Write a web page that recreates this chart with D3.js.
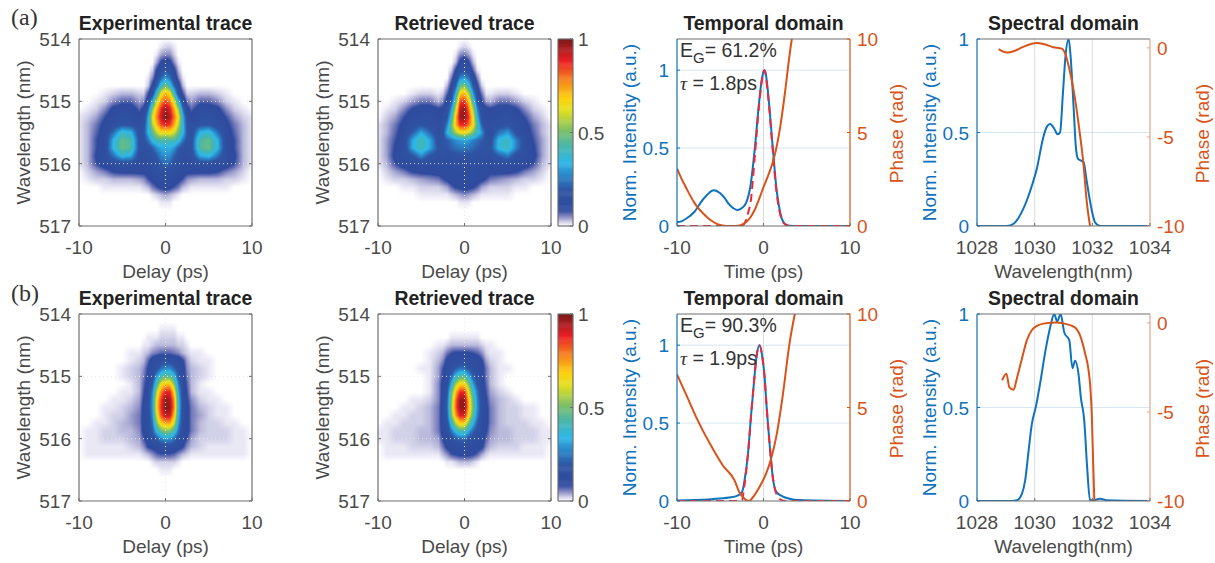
<!DOCTYPE html>
<html>
<head>
<meta charset="utf-8">
<script src="https://cdn.jsdelivr.net/npm/d3@7"></script>
<style>
  html, body { margin: 0; padding: 0; background: white; }
  text { font-family: "Liberation Sans", Arial, sans-serif; }
</style>
</head>
<body>
<div id="chart"></div>
<script>
// sample positions of the heat maps, finer around the central peak
var delays = [-10,-9,-8,-7,-6,-5,-4,-3,-2.5,-2,-1.5,-1,-0.5,0,0.5,1,1.5,2,2.5,3,4,5,6,7,8,9,10]
var wavelengths = [514,514.125,514.25,514.375,514.5,514.625,514.75,514.875,515,515.125,515.25,515.375,515.5,515.625,515.75,515.875,516,516.125,516.25,516.375,516.5,516.625,516.75,516.875,517]

// trace values x100
var trace_exp_a = [
[0,0,0,0,0,0,0,0,0,0,0,0,0,0,0,0,0,0,0,0,0,0,0,0,0,0,0],
[0,0,0,0,0,0,0,0,0,0,0,0,1,2,2,1,0,0,0,0,0,0,0,0,0,0,0],
[0,0,0,0,0,0,0,0,0,0,0,1,4,5,5,2,0,0,0,0,0,0,0,0,0,0,0],
[0,0,0,0,0,0,0,0,0,0,0,4,9,11,10,5,1,0,0,0,0,0,0,0,0,0,0],
[0,0,0,0,0,0,0,0,0,0,2,9,14,18,15,10,3,0,0,0,0,0,0,0,0,0,0],
[0,0,0,0,0,0,0,0,0,1,5,12,22,30,24,13,6,1,0,0,0,0,0,0,0,0,0],
[0,0,0,0,0,0,0,0,0,2,10,20,38,50,40,22,11,3,0,0,0,0,0,0,0,0,0],
[0,0,0,1,2,3,3,2,2,8,14,38,64,72,66,40,15,8,2,2,3,3,2,1,0,0,0],
[0,0,1,2,5,7,7,4,5,12,32,60,76,84,78,62,34,13,6,4,7,7,5,2,1,0,0],
[0,1,2,5,10,11,11,7,10,22,52,72,88,96,90,74,54,24,10,7,11,11,10,5,2,1,0],
[1,2,4,8,12,14,13,10,12,32,62,78,92,100,94,80,64,34,13,10,13,14,12,8,4,2,1],
[1,3,6,10,14,18,17,13,16,34,56,72,84,88,86,74,58,36,17,13,17,18,14,10,6,3,1],
[1,3,7,11,24,38,34,14,18,34,46,58,66,64,66,60,48,36,19,14,34,38,24,11,7,3,1],
[1,3,8,12,34,47,43,16,17,24,36,42,44,42,44,43,38,25,17,16,43,47,34,12,8,3,1],
[1,3,8,13,35,48,44,16,15,15,20,28,32,33,33,29,20,15,15,16,44,48,35,13,8,3,1],
[1,3,9,13,24,36,32,14,13,13,15,20,27,29,28,21,15,13,13,14,32,36,24,13,9,3,1],
[1,3,8,12,13,14,14,12,12,12,13,15,20,23,21,16,13,12,12,12,14,14,13,12,8,3,1],
[0,2,4,6,9,10,10,10,10,11,12,14,15,16,15,14,12,11,10,10,10,10,9,6,4,2,0],
[0,1,2,2,3,3,3,4,5,8,10,11,12,13,12,11,10,8,5,4,3,3,3,2,2,1,0],
[0,0,0,1,1,1,1,1,2,3,6,8,10,11,10,8,6,3,2,1,1,1,1,1,0,0,0],
[0,0,0,0,0,0,0,0,0,0,1,2,3,4,3,2,1,0,0,0,0,0,0,0,0,0,0],
[0,0,0,0,0,0,0,0,0,0,0,0,1,1,1,0,0,0,0,0,0,0,0,0,0,0,0],
[0,0,0,0,0,0,0,0,0,0,0,0,0,0,0,0,0,0,0,0,0,0,0,0,0,0,0],
[0,0,0,0,0,0,0,0,0,0,0,0,0,0,0,0,0,0,0,0,0,0,0,0,0,0,0],
[0,0,0,0,0,0,0,0,0,0,0,0,0,0,0,0,0,0,0,0,0,0,0,0,0,0,0]]

var trace_ret_a = [
[0,0,0,0,0,0,0,0,0,0,0,0,0,0,0,0,0,0,0,0,0,0,0,0,0,0,0],
[0,0,0,0,0,0,0,0,0,0,0,0,1,2,1,0,0,0,0,0,0,0,0,0,0,0,0],
[0,0,0,0,0,0,0,0,0,0,0,1,5,6,4,1,0,0,0,0,0,0,0,0,0,0,0],
[0,0,0,0,0,0,0,0,0,0,0,3,10,13,9,3,0,0,0,0,0,0,0,0,0,0,0],
[0,0,0,0,0,0,0,0,0,0,2,9,15,17,13,7,1,0,0,0,0,0,0,0,0,0,0],
[0,0,0,0,0,0,0,0,0,0,6,13,27,30,24,12,5,0,0,0,0,0,0,0,0,0,0],
[0,0,0,0,0,0,0,0,0,3,10,20,46,52,38,18,9,2,0,0,0,0,0,0,0,0,0],
[0,0,0,0,1,2,2,1,2,7,13,34,68,72,56,30,12,6,1,1,2,2,1,0,0,0,0],
[0,0,1,2,4,6,6,3,5,11,20,46,84,86,70,42,17,9,4,3,6,6,4,2,1,0,0],
[0,1,2,5,9,11,11,9,10,13,30,60,94,97,80,56,26,12,10,9,11,11,9,5,2,1,0],
[0,2,4,8,12,13,13,11,12,18,38,70,97,98,86,64,33,14,11,11,13,13,12,8,4,2,0],
[1,3,6,10,14,17,15,12,14,26,48,72,88,88,80,66,42,20,13,12,15,17,14,10,6,3,1],
[1,3,7,11,20,32,22,13,17,34,44,56,64,66,60,50,38,30,15,13,24,30,16,11,7,3,1],
[1,4,8,13,32,42,32,15,17,20,24,28,30,32,30,26,23,20,17,15,36,40,26,13,8,4,1],
[1,4,9,13,32,42,32,17,18,19,21,23,25,25,24,22,20,18,17,17,36,40,26,13,9,4,1],
[1,4,10,13,18,28,18,15,15,15,16,17,17,17,17,16,15,15,15,15,20,26,14,13,10,4,1],
[1,3,8,12,12,12,12,12,12,12,12,12,12,12,12,12,12,12,12,12,12,12,12,12,8,3,1],
[0,2,4,6,9,10,10,11,11,11,11,12,12,12,12,12,11,11,11,10,10,10,9,6,4,2,0],
[0,1,2,2,3,4,5,6,8,10,11,11,11,11,11,11,11,10,8,6,5,4,3,2,2,1,0],
[0,0,0,1,1,2,2,2,3,4,7,9,10,11,10,9,7,4,3,2,2,2,1,1,0,0,0],
[0,0,0,0,0,1,1,1,1,1,2,3,4,5,4,3,2,1,1,1,1,1,0,0,0,0,0],
[0,0,0,0,0,0,0,0,0,0,0,0,1,1,1,0,0,0,0,0,0,0,0,0,0,0,0],
[0,0,0,0,0,0,0,0,0,0,0,0,0,0,0,0,0,0,0,0,0,0,0,0,0,0,0],
[0,0,0,0,0,0,0,0,0,0,0,0,0,0,0,0,0,0,0,0,0,0,0,0,0,0,0],
[0,0,0,0,0,0,0,0,0,0,0,0,0,0,0,0,0,0,0,0,0,0,0,0,0,0,0]]

var trace_exp_b = [
[0,0,0,0,0,0,0,0,0,0,0,0,0,0,0,0,0,0,0,0,0,0,0,0,0,0,0],
[0,0,0,0,0,0,0,0,0,0,0,0,0,0,0,0,0,0,0,0,0,0,0,0,0,0,0],
[0,0,0,0,0,0,0,0,0,0,0,0,1,1,1,1,0,0,0,0,0,0,0,0,0,0,0],
[0,0,0,0,0,0,0,0,0,1,1,1,2,2,2,2,1,1,0,0,0,0,0,0,0,0,0],
[0,0,0,0,0,0,0,0,1,1,2,3,3,3,3,3,2,2,1,0,0,0,0,0,0,0,0],
[0,0,0,0,0,0,1,1,2,3,5,6,7,7,7,6,5,3,2,1,1,0,0,0,0,0,0],
[0,0,0,0,0,0,1,2,3,7,11,13,14,14,14,13,12,9,4,2,1,1,0,0,0,0,0],
[0,0,0,0,0,1,2,3,5,9,12,16,24,28,28,22,14,11,5,3,2,1,0,0,0,0,0],
[0,0,0,0,0,1,2,3,6,10,14,30,42,46,46,36,18,11,6,3,2,1,0,0,0,0,0],
[0,0,0,0,0,0,1,3,7,11,20,42,64,70,70,52,26,12,7,3,1,0,0,0,0,0,0],
[0,0,0,0,0,1,1,3,8,12,26,58,78,88,88,68,32,13,8,3,1,1,0,0,0,0,0],
[0,0,0,0,1,1,2,4,9,13,30,66,86,97,96,76,36,14,9,5,2,1,1,0,0,0,0],
[0,0,0,1,1,2,3,5,10,14,30,68,88,99,98,78,37,14,10,6,3,2,1,1,0,0,0],
[0,0,0,1,2,2,4,6,10,13,28,62,84,92,92,72,34,14,10,6,4,2,1,1,0,0,0],
[0,0,1,1,2,3,4,6,10,13,24,52,68,74,74,60,30,13,10,6,3,2,2,1,1,0,0],
[0,1,1,2,2,3,3,5,10,12,20,36,48,52,52,42,24,12,10,6,3,2,2,2,1,1,0],
[0,1,1,2,2,2,3,4,8,11,14,20,27,30,30,24,15,11,8,4,2,2,2,2,1,1,0],
[0,1,1,1,1,1,2,3,5,9,10,12,14,15,15,13,11,9,5,3,2,1,1,1,1,1,0],
[0,1,1,1,1,1,1,1,2,3,5,7,8,8,8,7,5,3,2,1,1,1,1,1,1,1,0],
[0,0,0,0,0,0,0,0,0,0,1,2,2,2,2,2,1,0,0,0,0,0,0,0,0,0,0],
[0,0,0,0,0,0,0,0,0,0,0,0,1,1,1,0,0,0,0,0,0,0,0,0,0,0,0],
[0,0,0,0,0,0,0,0,0,0,0,0,0,0,0,0,0,0,0,0,0,0,0,0,0,0,0],
[0,0,0,0,0,0,0,0,0,0,0,0,0,0,0,0,0,0,0,0,0,0,0,0,0,0,0],
[0,0,0,0,0,0,0,0,0,0,0,0,0,0,0,0,0,0,0,0,0,0,0,0,0,0,0],
[0,0,0,0,0,0,0,0,0,0,0,0,0,0,0,0,0,0,0,0,0,0,0,0,0,0,0]]

var trace_ret_b = [
[0,0,0,0,0,0,0,0,0,0,0,0,0,0,0,0,0,0,0,0,0,0,0,0,0,0,0],
[0,0,0,0,0,0,0,0,0,0,0,0,0,0,0,0,0,0,0,0,0,0,0,0,0,0,0],
[0,0,0,0,0,0,0,0,0,0,0,0,0,0,0,0,0,0,0,0,0,0,0,0,0,0,0],
[0,0,0,0,0,0,0,0,0,0,1,1,1,1,1,1,1,0,0,0,0,0,0,0,0,0,0],
[0,0,0,0,0,0,0,1,1,2,3,3,3,3,3,3,3,2,1,1,0,0,0,0,0,0,0],
[0,0,0,0,0,0,1,2,3,6,8,9,9,9,9,8,7,5,2,1,1,0,0,0,0,0,0],
[0,0,0,0,0,0,1,3,5,10,12,12,13,13,13,12,12,9,4,2,1,0,0,0,0,0,0],
[0,0,0,0,0,1,1,4,8,11,14,20,24,24,18,14,12,11,6,3,1,1,0,0,0,0,0],
[0,0,0,0,0,0,1,4,9,11,22,36,45,45,32,20,14,11,6,3,1,0,0,0,0,0,0],
[0,0,0,0,0,0,1,5,10,13,34,56,67,67,50,30,18,11,7,3,1,0,0,0,0,0,0],
[0,0,0,0,0,0,1,5,10,18,46,72,87,87,62,40,24,12,8,4,2,1,0,0,0,0,0],
[0,0,0,0,1,1,2,5,11,21,52,80,97,97,70,46,27,13,9,5,3,2,1,0,0,0,0],
[0,0,0,1,1,2,3,6,11,22,54,82,98,98,72,48,28,14,10,6,3,2,2,1,1,0,0],
[0,0,1,1,2,2,3,6,11,20,50,76,90,90,66,44,26,13,10,6,3,2,2,1,1,0,0],
[0,1,1,2,2,2,3,6,11,16,38,58,69,69,50,34,20,12,10,6,3,2,2,2,1,1,0],
[1,1,2,2,2,3,3,6,10,12,25,37,44,44,32,22,15,12,9,5,3,3,2,2,2,1,1],
[1,1,2,2,2,3,3,4,9,11,14,20,23,23,18,14,12,11,7,4,3,3,2,2,2,1,1],
[0,1,1,1,2,2,2,3,6,10,11,12,12,12,12,12,11,10,5,3,2,2,2,1,1,1,0],
[0,1,1,1,1,1,1,1,3,5,8,9,10,10,10,9,7,4,2,1,1,1,1,1,1,1,0],
[0,0,0,0,0,0,0,0,0,1,1,2,3,3,3,2,1,0,0,0,0,0,0,0,0,0,0],
[0,0,0,0,0,0,0,0,0,0,0,0,0,0,0,0,0,0,0,0,0,0,0,0,0,0,0],
[0,0,0,0,0,0,0,0,0,0,0,0,0,0,0,0,0,0,0,0,0,0,0,0,0,0,0],
[0,0,0,0,0,0,0,0,0,0,0,0,0,0,0,0,0,0,0,0,0,0,0,0,0,0,0],
[0,0,0,0,0,0,0,0,0,0,0,0,0,0,0,0,0,0,0,0,0,0,0,0,0,0,0],
[0,0,0,0,0,0,0,0,0,0,0,0,0,0,0,0,0,0,0,0,0,0,0,0,0,0,0]]

// temporal domain, row (a)
var time_a = [-10,-9.5,-9,-8,-7,-6.5,-6,-5.75,-5,-4.5,-4,-3.5,-3,-2.5,-2,-1.5,-1,-0.5,-0.25,0,0.1,0.25,0.5,1,1.5,2,2.5,3,4,10]
var intensity_a = [0.025,0.03,0.045,0.09,0.17,0.2,0.225,0.23,0.21,0.18,0.14,0.115,0.102,0.115,0.15,0.26,0.5,0.8,0.92,0.99,1,0.98,0.87,0.55,0.24,0.07,0.012,0.002,0,0]
var fit_time_a = [-10,-2.6,-2.2,-1.8,-1.45,-1,-0.5,0,0.1,0.5,1,1.5,2,2.5,3,10]
var fit_a = [0,0,0.017,0.08,0.17,0.45,0.78,0.99,1,0.85,0.53,0.22,0.06,0.01,0,0]
var phase_time_a = [-10,-9.5,-9,-8.5,-8,-7.5,-7,-6.5,-6,-5.5,-5,-4.5,-4,-3.5,-3,-2.5,-2,-1.5,-1,-0.5,0,0.5,1,1.5,2,2.5,3,3.4]
var phase_a = [3.07,2.55,2.1,1.65,1.25,0.93,0.68,0.46,0.28,0.14,0.05,0.01,0,0,0.01,0.07,0.22,0.47,0.88,1.45,2.08,2.65,3.3,4.2,5.5,7.2,9.1,10.4]

// spectral domain, row (a)
var wl_a = [1028,1029.04,1029.27,1029.6,1029.85,1030.08,1030.3,1030.42,1030.54,1030.68,1030.8,1030.88,1030.98,1031.07,1031.18,1031.25,1031.35,1031.43,1031.5,1031.7,1031.8,1032,1032.1,1032.27,1034]
var spectrum_a = [0,0,0.012,0.09,0.19,0.31,0.475,0.53,0.545,0.52,0.49,0.5,0.71,0.91,1,0.9,0.636,0.42,0.36,0.34,0.245,0.07,0.018,0,0]
var spec_phase_wl_a = [1028.75,1029.04,1029.27,1029.6,1030.08,1030.3,1030.65,1030.94,1031.06,1031.2,1031.35,1031.52,1031.7,1031.8,1031.92]
var spec_phase_a = [-0.07,-0.26,-0.19,0.06,0.28,0.22,0.04,-0.04,-0.32,-1.16,-2.37,-4.23,-6.66,-8.53,-10]

// temporal domain, row (b)
var time_b = [-10,-8,-6,-4,-3,-2.5,-2.2,-1.8,-1.42,-1.04,-0.8,-0.46,-0.15,0.12,0.38,0.7,1.08,1.46,2.2,3,4.15,10]
var intensity_b = [0.003,0.006,0.012,0.022,0.035,0.055,0.13,0.3,0.56,0.8,0.93,1,0.93,0.8,0.59,0.37,0.15,0.06,0.03,0.015,0.006,0]
var fit_time_b = [-10,-3,-2.5,-2.2,-1.8,-1.42,-1.04,-0.8,-0.46,-0.15,0.12,0.38,0.7,1.08,1.46,2,2.5,10]
var fit_b = [0,0,0.005,0.1,0.3,0.56,0.8,0.93,1,0.93,0.8,0.59,0.37,0.15,0.05,0.008,0,0]
var phase_time_b = [-10,-8.9,-7.8,-6.2,-4.7,-3.35,-2.8,-2.2,-1.7,-1.23,-0.46,0.3,0.88,1.46,2.2,3,3.7]
var phase_b = [6.77,5.65,4.5,3.07,1.9,1.1,0.48,0.12,0,0.2,0.75,1.46,2.26,3.4,5.56,8.4,10.2]

// spectral domain, row (b)
var wl_b = [1028,1029.2,1029.38,1029.56,1029.67,1029.79,1029.9,1030.05,1030.19,1030.37,1030.54,1030.68,1030.78,1030.9,1031.03,1031.2,1031.31,1031.4,1031.52,1031.6,1031.72,1031.82,1031.92,1032.04,1032.27,1032.5,1034]
var spectrum_b = [0,0,0.004,0.04,0.11,0.27,0.41,0.51,0.63,0.8,0.93,1,0.96,1,0.9,0.86,0.71,0.75,0.68,0.556,0.43,0.18,0.004,0.004,0.012,0.004,0]
var spec_phase_wl_b = [1028.87,1029.02,1029.12,1029.27,1029.38,1029.56,1029.73,1029.9,1030.08,1030.3,1030.77,1031.1,1031.4,1031.57,1031.75,1031.87,1031.93,1031.98,1032.03,1032.07]
var spec_phase_b = [-3.22,-2.85,-3.6,-3.75,-3.13,-2,-0.97,-0.41,-0.17,-0.04,0.02,-0.07,-0.26,-0.69,-1.72,-2.66,-3.6,-5.1,-7.9,-10]

// colormap stops
var cmap_values = [0,0.005,0.05,0.085,0.19,0.26,0.34,0.42,0.51,0.62,0.685,0.79,0.88,1]
var cmap_colors = ["#ffffff","#f5f3fa","#8a8cc4","#2f4a9e","#2f55a4","#2a7fc4","#2eb7e8","#45b6b0","#7cc068","#e4e01f","#fdd00f","#f47b20","#ed2024","#7a1a1a"]

var blue = "#0f72bd"
var orange = "#d95319"
var text_grey = "#4a4a4a"
var frame_grey = "#6e6e6e"
var font_size = 19

var plot_w = 173
var plot_h = 187
var row_tops = [39, 314]

var color = d3.scaleLinear().domain(cmap_values).range(cmap_colors).clamp(true)

var svg = d3.select("#chart").append("svg")
    .attr("width", 1215)
    .attr("height", 563)
    .style("display", "block")

function add_text(g, str, x, y, opts){
    opts = opts || {}
    var t = g.append("text")
        .text(str)
        .attr("x", x)
        .attr("y", y)
        .attr("fill", opts.fill || text_grey)
        .attr("font-size", opts.size || font_size)
        .attr("text-anchor", opts.anchor || "middle")
    if(opts.weight) t.attr("font-weight", opts.weight)
    if(opts.family) t.style("font-family", opts.family)
    if(opts.rotate) t.attr("transform", "rotate(-90 "+x+" "+y+")")
    return t
}

function sample_trace(matrix, d, w){
    var i = Math.min(d3.bisectRight(delays, d), delays.length-1)
    var j = Math.min(d3.bisectRight(wavelengths, w), wavelengths.length-1)
    var tx = (d-delays[i-1])/(delays[i]-delays[i-1])
    var ty = (w-wavelengths[j-1])/(wavelengths[j]-wavelengths[j-1])
    var top = matrix[j-1][i-1]*(1-tx)+matrix[j-1][i]*tx
    var bot = matrix[j][i-1]*(1-tx)+matrix[j][i]*tx
    return (top*(1-ty)+bot*ty)/100
}

function frame(g, w, h, color_left, color_right){
    g.append("line").attr("x1", 0).attr("x2", w).attr("y1", 0).attr("y2", 0).attr("stroke", frame_grey).attr("stroke-width", 1.2)
    g.append("line").attr("x1", 0).attr("x2", w).attr("y1", h).attr("y2", h).attr("stroke", frame_grey).attr("stroke-width", 1.2)
    g.append("line").attr("x1", 0).attr("x2", 0).attr("y1", 0).attr("y2", h).attr("stroke", color_left || frame_grey).attr("stroke-width", 1.2)
    g.append("line").attr("x1", w).attr("x2", w).attr("y1", 0).attr("y2", h).attr("stroke", color_right || frame_grey).attr("stroke-width", 1.2)
}

function bottom_ticks(g, x, values, stroke){
    values.forEach(function(v){
        g.append("line").attr("x1", x(v)).attr("x2", x(v)).attr("y1", plot_h).attr("y2", plot_h-3).attr("stroke", stroke || frame_grey)
        add_text(g, v, x(v), plot_h+28)
    })
}

function draw_trace(left, top, matrix, title){
    var g = svg.append("g").attr("transform", "translate("+left+","+top+")")
    var x = d3.scaleLinear().domain([-10,10]).range([0,plot_w])
    var y = d3.scaleLinear().domain([514,517]).range([0,plot_h])

    var canvas = document.createElement("canvas")
    canvas.width = plot_w
    canvas.height = plot_h
    var ctx = canvas.getContext("2d")
    for(var py=0; py<plot_h; py++){
        for(var px=0; px<plot_w; px++){
            ctx.fillStyle = color(sample_trace(matrix, x.invert(px+0.5), y.invert(py+0.5)))
            ctx.fillRect(px, py, 1, 1)
        }
    }
    g.append("image")
        .attr("href", canvas.toDataURL())
        .attr("width", plot_w)
        .attr("height", plot_h)

    // dotted grid
    var grid_color = "#e6e6e6"
    ;[515,516].forEach(function(v){
        g.append("line").attr("x1", 0).attr("x2", plot_w).attr("y1", y(v)).attr("y2", y(v))
            .attr("stroke", grid_color).attr("stroke-dasharray", "1,3")
    })
    g.append("line").attr("x1", x(0)).attr("x2", x(0)).attr("y1", 0).attr("y2", plot_h)
        .attr("stroke", grid_color).attr("stroke-dasharray", "1,3")

    frame(g, plot_w, plot_h)
    bottom_ticks(g, x, [-10,0,10])
    ;[514,515,516,517].forEach(function(v){
        g.append("line").attr("x1", 0).attr("x2", 3).attr("y1", y(v)).attr("y2", y(v)).attr("stroke", frame_grey)
        g.append("line").attr("x1", plot_w).attr("x2", plot_w-3).attr("y1", y(v)).attr("y2", y(v)).attr("stroke", frame_grey)
        add_text(g, v, -8, y(v)+7, {anchor: "end"})
    })
    add_text(g, title, plot_w/2, -9, {weight: "bold", fill: "#222", size: 19.4})
    add_text(g, "Delay (ps)", plot_w/2, plot_h+52)
    add_text(g, "Wavelength (nm)", -49, plot_h/2, {rotate: true})
}

function draw_colorbar(left, top){
    var g = svg.append("g").attr("transform", "translate("+left+","+top+")")
    var w = 15
    var y = d3.scaleLinear().domain([0,1]).range([plot_h,0])
    g.selectAll("rect").data(d3.range(0,1,0.005)).enter().append("rect")
        .attr("x", 0)
        .attr("width", w)
        .attr("y", function(d){ return y(d+0.005) })
        .attr("height", y(0)-y(0.005)+0.5)
        .attr("fill", function(d){ return color(d) })
    frame(g, w, plot_h)
    ;[0,0.5,1].forEach(function(v){
        g.append("line").attr("x1", w).attr("x2", w-3).attr("y1", y(v)).attr("y2", y(v)).attr("stroke", frame_grey)
        add_text(g, v, w+5, y(v)+7, {anchor: "start"})
    })
}

function draw_lines(left, top, p){
    var g = svg.append("g").attr("transform", "translate("+left+","+top+")")
    var x = d3.scaleLinear().domain(p.x_domain).range([0,plot_w])
    var y = d3.scaleLinear().domain(p.y_domain).range([plot_h,0])
    var y2 = d3.scaleLinear().domain(p.y2_domain).range([plot_h,0])
    var clip_id = "clip_"+left+"_"+top

    g.append("clipPath").attr("id", clip_id).append("rect").attr("width", plot_w).attr("height", plot_h)

    // grid
    p.y_grid.forEach(function(v){
        g.append("line").attr("x1", 0).attr("x2", plot_w).attr("y1", y(v)).attr("y2", y(v)).attr("stroke", "#d5e7f3")
    })
    p.x_grid.forEach(function(v){
        g.append("line").attr("x1", x(v)).attr("x2", x(v)).attr("y1", 0).attr("y2", plot_h).attr("stroke", "#dcdcdc")
    })

    var line_y = d3.line().x(function(d){ return x(d[0]) }).y(function(d){ return y(d[1]) }).curve(d3.curveMonotoneX)
    var line_y2 = d3.line().x(function(d){ return x(d[0]) }).y(function(d){ return y2(d[1]) }).curve(d3.curveMonotoneX)
    var plot = g.append("g").attr("clip-path", "url(#"+clip_id+")")

    frame(g, plot_w, plot_h, blue, p.right_color)

    plot.append("path").attr("d", line_y(d3.zip(p.xs, p.ys)))
        .attr("fill", "none").attr("stroke", blue).attr("stroke-width", 2)
    if(p.fit_xs){
        plot.append("path").attr("d", line_y(d3.zip(p.fit_xs, p.fit_ys)))
            .attr("fill", "none").attr("stroke", "#ea2a3a").attr("stroke-width", 2).attr("stroke-dasharray", "8,5")
    }
    plot.append("path").attr("d", line_y2(d3.zip(p.phase_xs, p.phase_ys)))
        .attr("fill", "none").attr("stroke", orange).attr("stroke-width", 2)

    bottom_ticks(g, x, p.x_ticks)

    p.y_ticks.forEach(function(v){
        g.append("line").attr("x1", 0).attr("x2", 3).attr("y1", y(v)).attr("y2", y(v)).attr("stroke", blue)
        add_text(g, v, -8, y(v)+7, {anchor: "end", fill: blue})
    })
    p.y2_ticks.forEach(function(v){
        g.append("line").attr("x1", plot_w).attr("x2", plot_w-3).attr("y1", y2(v)).attr("y2", y2(v)).attr("stroke", p.right_color)
        add_text(g, v, plot_w+7, y2(v)+7, {anchor: "start", fill: orange})
    })

    add_text(g, p.title, plot_w/2, -9, {weight: "bold", fill: "#222", size: 19.4})
    add_text(g, p.x_label, plot_w/2, plot_h+52)
    add_text(g, "Norm. Intensity (a.u.)", -41, plot_h/2, {rotate: true, fill: blue})
    add_text(g, "Phase (rad)", plot_w+p.phase_label_dx, plot_h/2+1, {rotate: true, fill: orange})

    if(p.note_eff){
        var note = add_text(g, "", 3, 18, {anchor: "start", fill: "#333", size: 19.5})
        note.append("tspan").text("E")
        note.append("tspan").text("G").attr("dy", 6).attr("font-size", 15)
        note.append("tspan").text("= "+p.note_eff).attr("dy", -6)
        var tau = add_text(g, "", 3, 51, {anchor: "start", fill: "#333", size: 19.5})
        tau.append("tspan").text("τ").style("font-family", "'Liberation Serif', serif").style("font-style", "italic")
        tau.append("tspan").text(" = "+p.note_tau)
    }
}

// row (a)
draw_trace(79, row_tops[0], trace_exp_a, "Experimental trace")
draw_trace(378, row_tops[0], trace_ret_a, "Retrieved trace")
draw_colorbar(558, row_tops[0])
draw_lines(677, row_tops[0], {
    title: "Temporal domain", x_label: "Time (ps)", x_domain: [-10,10], x_ticks: [-10,0,10],
    y_domain: [0,1.2], y_ticks: [0,0.5,1], y2_domain: [0,10], y2_ticks: [0,5,10],
    y_grid: [0.5,1], x_grid: [0],
    xs: time_a, ys: intensity_a, fit_xs: fit_time_a, fit_ys: fit_a,
    phase_xs: phase_time_a, phase_ys: phase_a, right_color: orange, phase_label_dx: 53,
    note_eff: "61.2%", note_tau: "1.8ps"
})
draw_lines(977, row_tops[0], {
    title: "Spectral domain", x_label: "Wavelength(nm)", x_domain: [1028,1034], x_ticks: [1028,1030,1032,1034],
    y_domain: [0,1], y_ticks: [0,0.5,1], y2_domain: [-10,0.5], y2_ticks: [-10,-5,0],
    y_grid: [0.5], x_grid: [1030,1032],
    xs: wl_a, ys: spectrum_a,
    phase_xs: spec_phase_wl_a, phase_ys: spec_phase_a, right_color: "#e6a188", phase_label_dx: 59
})

// row (b)
draw_trace(79, row_tops[1], trace_exp_b, "Experimental trace")
draw_trace(378, row_tops[1], trace_ret_b, "Retrieved trace")
draw_colorbar(558, row_tops[1])
draw_lines(677, row_tops[1], {
    title: "Temporal domain", x_label: "Time (ps)", x_domain: [-10,10], x_ticks: [-10,0,10],
    y_domain: [0,1.2], y_ticks: [0,0.5,1], y2_domain: [0,10], y2_ticks: [0,5,10],
    y_grid: [0.5,1], x_grid: [0],
    xs: time_b, ys: intensity_b, fit_xs: fit_time_b, fit_ys: fit_b,
    phase_xs: phase_time_b, phase_ys: phase_b, right_color: orange, phase_label_dx: 53,
    note_eff: "90.3%", note_tau: "1.9ps"
})
draw_lines(977, row_tops[1], {
    title: "Spectral domain", x_label: "Wavelength(nm)", x_domain: [1028,1034], x_ticks: [1028,1030,1032,1034],
    y_domain: [0,1], y_ticks: [0,0.5,1], y2_domain: [-10,0.5], y2_ticks: [-10,-5,0],
    y_grid: [0.5], x_grid: [1030,1032],
    xs: wl_b, ys: spectrum_b,
    phase_xs: spec_phase_wl_b, phase_ys: spec_phase_b, right_color: "#e6a188", phase_label_dx: 59
})

// panel letters
add_text(svg, "(a)", 11, 25, {anchor: "start", size: 24, fill: "#333", family: "'Liberation Serif', serif"})
add_text(svg, "(b)", 11, 301, {anchor: "start", size: 24, fill: "#333", family: "'Liberation Serif', serif"})
</script>
</body>
</html>
